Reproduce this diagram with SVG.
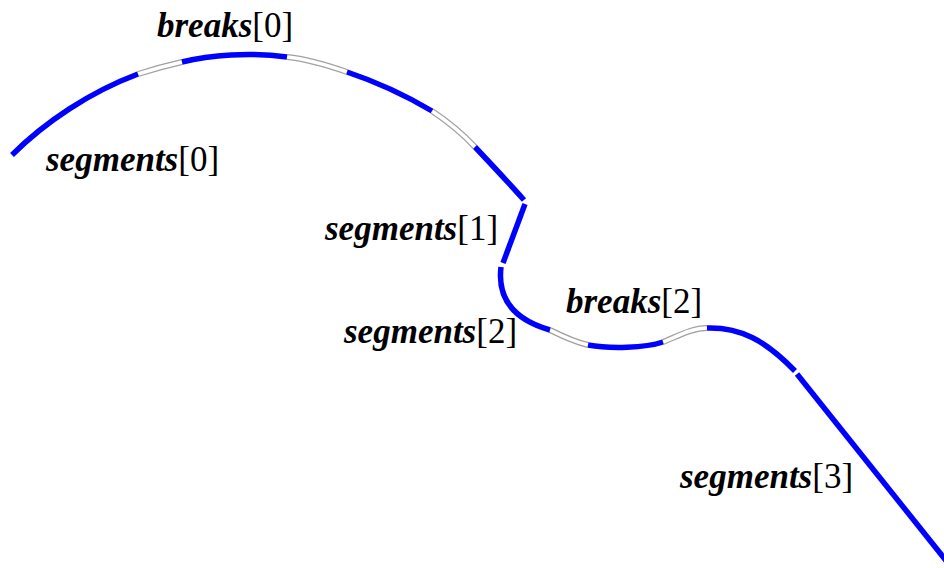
<svg xmlns="http://www.w3.org/2000/svg" width="944" height="568" viewBox="0 0 944 568">
<style>
.b{fill:none;stroke:#0000ff;stroke-width:5.5;stroke-linecap:butt}
.go{fill:none;stroke:#a0a0a0;stroke-width:6}
.gi{fill:none;stroke:#ffffff;stroke-width:3.6}
text{font-family:"Liberation Serif","Times New Roman",serif;font-size:35px;fill:#000}
.n{font-weight:bold;font-style:italic}
</style>
<rect width="944" height="568" fill="#fff"/>
<g id="connectors">
<g id="gaps">
<path class="go" d="M138,74 Q160,67 182,62"/>
<path class="gi" d="M138,74 Q160,67 182,62"/>
<path class="go" d="M287,57 C307,59 327,65 347,72"/>
<path class="gi" d="M287,57 C307,59 327,65 347,72"/>
<path class="go" d="M432,111 C447,121 462,133 475,147"/>
<path class="gi" d="M432,111 C447,121 462,133 475,147"/>
<path class="go" d="M550,330 C562,336 575,342 588,345"/>
<path class="gi" d="M550,330 C562,336 575,342 588,345"/>
<path class="go" d="M663,342 C678,336 692,328 707,328"/>
<path class="gi" d="M663,342 C678,336 692,328 707,328"/>
</g>
<g id="segment0">
<path class="b" d="M12,155 C45,122 90,92 138,74"/>
<path class="b" d="M182,62 C210,55 250,52 287,57"/>
<path class="b" d="M347,72 C377,82 405,95 432,111"/>
<path class="b" d="M475,147 C492,165 508,182 524,200"/>
</g>
<g id="segment1">
<path class="b" d="M525,204 L503,263"/>
</g>
<g id="segment2">
<path class="b" d="M501,267 C497,300 515,320 550,330"/>
<path class="b" d="M588,345 C610,349 645,348 663,342"/>
</g>
<g id="segment3">
<path class="b" d="M707,328 C740,327 765,340 795,371"/>
<path class="b" d="M797,374 L952,568"/>
</g>
</g>
<g id="label-breaks0"><text x="157" y="37"><tspan class="n">breaks</tspan>[0]</text></g>
<g id="label-segments0"><text x="46" y="171"><tspan class="n">segments</tspan>[0]</text></g>
<g id="label-segments1"><text x="325" y="240"><tspan class="n">segments</tspan>[1]</text></g>
<g id="label-breaks2"><text x="566" y="313"><tspan class="n">breaks</tspan>[2]</text></g>
<g id="label-segments2"><text x="344" y="343"><tspan class="n">segments</tspan>[2]</text></g>
<g id="label-segments3"><text x="680" y="488"><tspan class="n">segments</tspan>[3]</text></g>
</svg>
